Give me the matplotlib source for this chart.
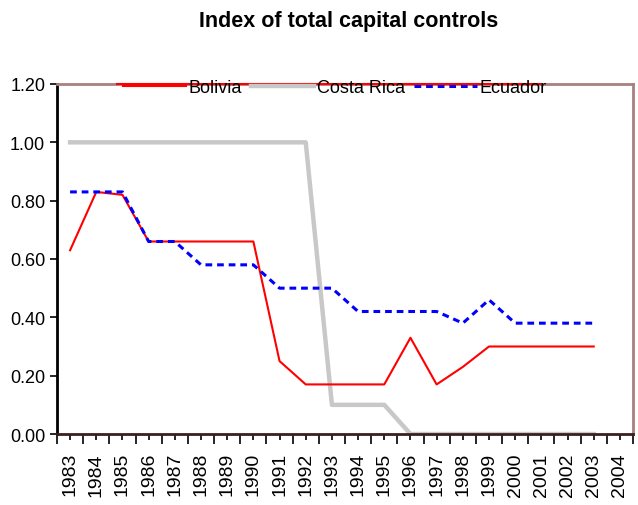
import numpy as np
import matplotlib
matplotlib.use("Agg")
import matplotlib.pyplot as plt
from matplotlib.ticker import FixedLocator, FuncFormatter

# Data
years = [str(y) for y in range(1983, 2005)]
bolivia = [0.63, 0.83, 0.82, 0.66, 0.66, 0.66, 0.66, 0.66, 0.25, 0.17, 0.17,
           0.17, 0.17, 0.33, 0.17, 0.23, 0.30, 0.30, 0.30, 0.30, 0.30]
costa_rica = [1.00, 1.00, 1.00, 1.00, 1.00, 1.00, 1.00, 1.00, 1.00, 1.00, 0.10,
              0.10, 0.10, 0.00, 0.00, 0.00, 0.00, 0.00, 0.00, 0.00, 0.00]
ecuador = [0.83, 0.83, 0.83, 0.66, 0.66, 0.58, 0.58, 0.58, 0.50, 0.50, 0.50,
           0.42, 0.42, 0.42, 0.42, 0.38, 0.46, 0.38, 0.38, 0.38, 0.38]
y_ticks = [0.0, 0.2, 0.4, 0.6, 0.8, 1.0, 1.2]

plt.rcParams['font.family'] = ['Liberation Sans', 'DejaVu Sans']

fig = plt.figure(figsize=(6.38, 5.06), dpi=100)
ax = fig.add_axes([57 / 638, 1 - 435 / 506, 576 / 638, 350 / 506])

x = np.arange(len(bolivia))
ax.plot(x, costa_rica, color='#c8c8c8', lw=3.2, label='Costa Rica', zorder=2)
ax.plot(x, bolivia, color='red', lw=1.5, label='Bolivia', zorder=3)
ax.plot(x, ecuador, color='blue', lw=2.2, linestyle=(0, (2.2, 1.6)),
        label='Ecuador', zorder=4)

ax.set_xlim(-0.5, len(years) - 0.5)
ax.set_ylim(0, 1.2)

# category axis: labels at centres, long ticks at boundaries, short at centres
ax.xaxis.set_major_locator(FixedLocator(np.arange(len(years) + 1) - 0.5))
ax.xaxis.set_major_formatter(FuncFormatter(lambda v, p: ''))
ax.set_xticks(np.arange(len(years)), years, minor=True, rotation=90, fontsize=14)
ax.tick_params(axis='x', which='major', length=7, width=1.2, direction='out')
ax.tick_params(axis='x', which='minor', length=4, width=1.2, direction='out', pad=9)

ax.set_yticks(y_ticks)
ax.set_yticklabels([f"{v:.2f}" for v in y_ticks], fontsize=13)
ax.tick_params(axis='y', length=5, width=1.2, direction='out')

ax.spines['left'].set_color('black')
ax.spines['left'].set_linewidth(2)
ax.spines['bottom'].set_color('#3a1f1f')
ax.spines['bottom'].set_linewidth(2)
for s in ['top', 'right']:
    ax.spines[s].set_color('#a88080')
    ax.spines[s].set_linewidth(2)

# red line that the legend draws over the top border
ax.plot([0.104, 0.839], [1, 1], transform=ax.transAxes, color='red', lw=1.5,
        clip_on=False, zorder=5)

handles, labels = ax.get_legend_handles_labels()
order = [1, 0, 2]
leg = ax.legend([handles[i] for i in order], [labels[i] for i in order],
                ncol=3, loc='center', bbox_to_anchor=(0.482, 0.99),
                frameon=False, fontsize=13, handlelength=3.5, handletextpad=0.15,
                columnspacing=0.5, borderpad=0, borderaxespad=0)
leg.set_zorder(6)

fig.text(0.547, 0.958, "Index of total capital controls", ha='center', va='center',
         fontsize=15.5, fontweight='bold')

fig.savefig("out.png", dpi=100)
